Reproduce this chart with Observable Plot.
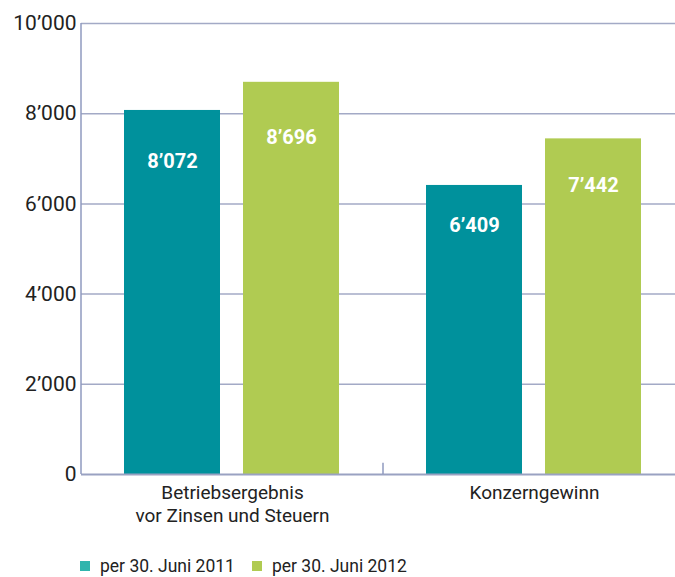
<!DOCTYPE html>
<html>
<head>
<meta charset="utf-8">
<script src="https://cdn.jsdelivr.net/npm/d3@7"></script>
<script src="https://cdn.jsdelivr.net/npm/@observablehq/plot@0.6"></script>
<style>
  html, body { margin: 0; padding: 0; background: #fff; overflow: hidden; }
  #chart { width: 675px; overflow: hidden; }
  #chart svg { max-width: none !important; }
  .legend { display: flex; align-items: center; margin-left: 80px; height: 32px; padding-top: 9px;
            box-sizing: border-box;
            font-family: Roboto, sans-serif; font-size: 17.5px; line-height: 20px; color: #222; }
  .legend .sw { display: inline-block; width: 10px; height: 10px; margin-right: 10px; }
  .legend .item { display: flex; align-items: center; margin-right: 17px; }
</style>
</head>
<body>
<div id="chart"></div>
<script>
const categories = ["Betriebsergebnis\nvor Zinsen und Steuern", "Konzerngewinn"];
const series = ["per 30. Juni 2011", "per 30. Juni 2012"];
const values2011 = [8072, 6409];
const values2012 = [8696, 7442];
const yTicks = [0, 2000, 4000, 6000, 8000, 10000];
const barColors = ["#00919c", "#b0cb52"];
const legendColors = ["#30b5ad", "#b0cb52"];

const data = categories.flatMap((c, i) => [
  {cat: c, series: series[0], value: values2011[i]},
  {cat: c, series: series[1], value: values2012[i]}
]);

const fmt = v => d3.format(",")(v).replace(/,/g, "\u2019");

const chart = Plot.plot({
  width: 685,
  height: 545,
  marginLeft: 80,
  marginRight: 0,
  marginTop: 23,
  marginBottom: 71,
  style: {fontFamily: "Roboto, sans-serif", fontSize: "19px", color: "#222", background: "white", maxWidth: "none"},
  fx: {domain: categories, padding: 0, label: null},
  x: {domain: series, paddingInner: 0.19, paddingOuter: 0.36, axis: null},
  y: {domain: [0, 10000], label: null},
  color: {domain: series, range: barColors},
  marks: [
    Plot.ruleY(yTicks.slice(1), {stroke: "#a3aac6", strokeWidth: 1.5}),
    Plot.barY(data, {fx: "cat", x: "series", y: "value", fill: "series"}),
    Plot.ruleY([0], {stroke: "#9aa2c2", strokeWidth: 2}),
    Plot.text(data, {fx: "cat", x: "series", y: d => d.value * 0.86, text: d => fmt(d.value),
      fill: "white", fontWeight: "bold", fontSize: 20}),
    Plot.axisY({ticks: yTicks, tickFormat: fmt, tickSize: 0, tickPadding: 5, fontSize: 21, label: null, fill: "#222"}),
    Plot.axisFx({anchor: "bottom", tickSize: 0, tickPadding: 7, fontSize: 19, lineHeight: 1.26, label: null, fill: "#222"})
  ]
});

document.getElementById("chart").appendChild(chart);

const svg = d3.select(chart.tagName.toLowerCase() === "svg" ? chart : chart.querySelector("svg"));
svg.style("max-width", "none");
const fxs = chart.scale("fx");
const ys = chart.scale("y");
const left = fxs.apply(categories[0]);
const sep = fxs.apply(categories[1]);
svg.append("line").attr("x1", left).attr("x2", left)
  .attr("y1", ys.apply(10000)).attr("y2", ys.apply(0))
  .attr("stroke", "#8f9abf").attr("stroke-width", 1.5);
svg.append("line").attr("x1", sep).attr("x2", sep)
  .attr("y1", ys.apply(0)).attr("y2", ys.apply(250))
  .attr("stroke", "#8f9abf").attr("stroke-width", 1.5);

const legend = document.createElement("div");
legend.className = "legend";
series.forEach((s, i) => {
  const item = document.createElement("span");
  item.className = "item";
  const sw = document.createElement("span");
  sw.className = "sw";
  sw.style.background = legendColors[i];
  item.appendChild(sw);
  item.appendChild(document.createTextNode(s));
  legend.appendChild(item);
});
document.getElementById("chart").appendChild(legend);
</script>
</body>
</html>
